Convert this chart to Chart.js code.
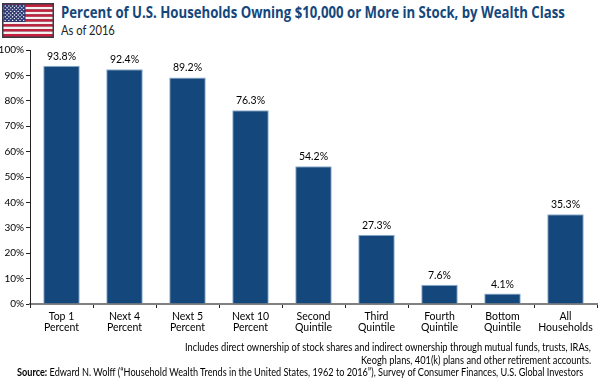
<!DOCTYPE html>
<html>
<head>
<meta charset="utf-8">
<style>
  html, body { margin: 0; padding: 0; background: #fff; }
  #wrap { position: relative; width: 600px; height: 379px; overflow: hidden; }
  #myChart { position: absolute; left: 0; top: 0; }
  .txt { position: absolute; white-space: nowrap; color: #000; font: 11.5px/13px Lato, sans-serif; transform-origin: left top; }
  #title { left: 61px; top: 2px; font: bold 16.5px/20px "Open Sans", sans-serif; color: #14477b; }
  #subtitle { left: 61px; top: 22px; font: 13px/16px Lato, sans-serif; color: #222; }
  #flag { position: absolute; left: 2px; top: 3px; }
</style>
<script src="https://cdn.jsdelivr.net/npm/chart.js@4"></script>
</head>
<body>
<div id="wrap">
  <svg id="flag" width="52" height="35" viewBox="0 0 52 35"></svg>
  <div class="txt" id="title" data-w="504">Percent of U.S. Households Owning $10,000 or More in Stock, by Wealth Class</div>
  <div class="txt" id="subtitle" data-w="54">As of 2016</div>
  <canvas id="myChart" width="600" height="379"></canvas>
  <div class="txt" style="left:185px;top:340px" data-w="406">Includes direct ownership of stock shares and indirect ownership through mutual funds, trusts, IRAs,</div>
  <div class="txt" style="left:361px;top:353px" data-w="230">Keogh plans, 401(k) plans and other retirement accounts.</div>
  <div class="txt" style="left:17px;top:365px" data-w="566"><b>Source:</b> Edward N. Wolff (“Household Wealth Trends in the United States, 1962 to 2016”), Survey of Consumer Finances, U.S. Global Investors</div>
</div>
<script>
const categories = [['Top 1', 'Percent'], ['Next 4', 'Percent'], ['Next 5', 'Percent'], ['Next 10', 'Percent'],
  ['Second', 'Quintile'], ['Third', 'Quintile'], ['Fourth', 'Quintile'], ['Bottom', 'Quintile'], ['All', 'Households']];
const shares = [93.8, 92.4, 89.2, 76.3, 54.2, 27.3, 7.6, 4.1, 35.3];
const ctx = document.getElementById('myChart');

// squeeze the text lines to the widths in the picture
document.querySelectorAll('.txt').forEach(el => {
  el.style.transform = `scaleX(${el.dataset.w / el.offsetWidth})`;
});

// flag
const flag = document.getElementById('flag');
let svg = '<rect width="52" height="35" fill="#3a3a44"/>';
for (let i = 0; i < 13; i++) {
  const y = 1.5 + i * 32 / 13;
  svg += `<rect x="1.5" y="${y}" width="49" height="${32 / 13}" fill="${i % 2 ? '#f4f1f1' : '#c5203e'}"/>`;
}
svg += '<rect x="1.5" y="1.5" width="22" height="17.5" fill="#2e3a73"/>';
for (let r = 0; r < 9; r++) {
  for (let c = 0; c < (r % 2 ? 5 : 6); c++) {
    svg += `<circle cx="${3.2 + c * 3.7 + (r % 2 ? 1.85 : 0)}" cy="${3 + r * 1.8}" r="0.7" fill="#fff"/>`;
  }
}
flag.innerHTML = svg;

const valueLabels = {
  id: 'valueLabels',
  afterDatasetsDraw(chart) {
    const c = chart.ctx;
    c.save();
    c.font = '10.5px Lato, sans-serif';
    c.fillStyle = '#000';
    c.textAlign = 'center';
    c.textBaseline = 'alphabetic';
    chart.getDatasetMeta(0).data.forEach((bar, i) => {
      c.fillText(shares[i].toFixed(1) + '%', bar.x, bar.y - 6);
    });
    c.restore();
  }
};

const chart = new Chart(ctx, {
  type: 'bar',
  data: {
    labels: categories,
    datasets: [{
      data: shares,
      backgroundColor: '#14477b',
      borderColor: '#8fb0d0',
      borderWidth: { top: 1, left: 1, right: 1, bottom: 0 },
      categoryPercentage: 0.58,
      barPercentage: 1
    }]
  },
  plugins: [valueLabels],
  options: {
    responsive: false,
    animation: false,
    layout: { padding: { top: 50, right: 3, left: 0, bottom: 0 } },
    plugins: { legend: { display: false }, title: { display: false }, tooltip: { enabled: false } },
    scales: {
      x: {
        afterFit: s => { s.height = 75; },
        border: { color: '#808080', width: 2 },
        grid: { drawOnChartArea: false, tickLength: 4, color: '#222', tickWidth: 1 },
        ticks: {
          color: '#000', padding: 3, maxRotation: 0, autoSkip: false,
          font: { family: 'Lato, sans-serif', size: 10.5, lineHeight: 1.05 }
        }
      },
      y: {
        min: 0,
        max: 100,
        afterFit: s => { s.width = 30; },
        border: { color: '#222', width: 1 },
        grid: { drawOnChartArea: false, tickLength: 4, color: '#222' },
        ticks: {
          stepSize: 10, color: '#000', padding: 2,
          callback: v => v + '%',
          font: { family: 'Lato, sans-serif', size: 10 }
        }
      }
    }
  }
});
</script>
</body>
</html>
